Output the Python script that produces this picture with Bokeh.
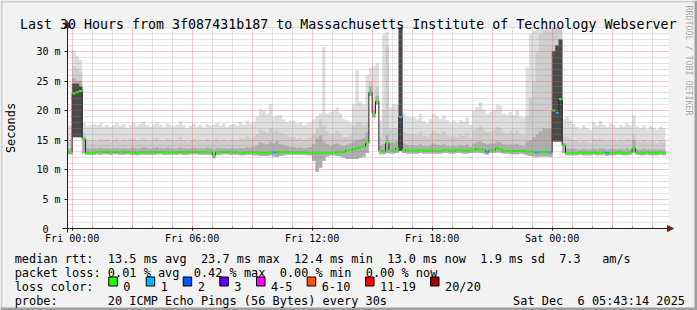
import math
from bokeh.plotting import figure
from bokeh.models import (Range1d, FixedTicker, Label, BoxAnnotation, Arrow,
                          NormalHead, LinearAxis, Grid)
from bokeh.embed import file_html
from bokeh.resources import INLINE

# ---------------- data (10-minute bins, hours relative to Fri 00:00) ----------------
BIN_HOURS = 1 / 6
FIRST_BIN_START = -1 / 3

median_ms = [
    12.9, 12.9,
    22.9, 23.1, 23.3, 15.2, 12.8, 12.8,
    12.8, 12.9, 12.9, 13.0, 13.0, 12.9,
    13.0, 13.0, 12.9, 12.9, 13.0, 12.9,
    12.9, 12.8, 12.9, 12.9, 12.9, 12.9,
    12.9, 13.0, 13.0, 12.9, 12.9, 12.9,
    12.9, 12.9, 13.0, 12.9, 12.9, 13.0,
    13.0, 13.0, 12.9, 12.9, 12.9, 12.9,
    12.4, 12.9, 12.9, 13.0, 13.0, 12.9,
    12.9, 12.9, 12.8, 12.8, 12.9, 12.9,
    12.9, 12.9, 12.8, 12.8, 12.8, 12.9,
    12.9, 13.0, 12.9, 12.9, 12.9, 12.9,
    12.9, 12.9, 12.9, 12.9, 12.8, 12.8,
    12.8, 12.7, 12.8, 12.8, 12.8, 12.8,
    12.8, 12.9, 12.9, 13.0, 13.3, 13.3,
    13.5, 13.6, 13.8, 13.9, 14.5, 23.1,
    19.5, 21.6, 13.2, 13.1, 14.5, 13.3,
    13.3, 13.6, 18.9, 13.4, 13.2, 13.2,
    13.2, 13.2, 13.3, 13.2, 13.2, 13.2,
    13.2, 13.2, 13.2, 13.3, 13.3, 13.2,
    13.2, 13.3, 13.3, 13.2, 13.2, 13.3,
    13.3, 13.5, 13.4, 13.3, 13.0, 13.3,
    13.3, 13.6, 13.4, 13.2, 13.2, 13.1,
    13.1, 13.1, 13.2, 13.1, 13.0, 13.1,
    13.0, 12.9, 13.0, 13.0, 12.9, 12.9,
    20.0, 19.6, 21.9, 14.1, 12.8, 12.8,
    12.8, 12.8, 12.9, 12.8, 12.8, 12.8,
    12.9, 12.8, 12.8, 12.9, 12.8, 12.8,
    12.8, 12.9, 12.9, 12.8, 12.8, 12.9,
    13.6, 12.9, 12.8, 12.8, 12.9, 12.8,
    12.8, 12.8, 12.9, 12.8,
]

max_ms = [
    17.5, 17.4,
    30.2, 29.2, 28.6, 18.0, 17.3, 17.6,
    17.8, 17.5, 17.9, 17.3, 17.6, 17.2,
    17.5, 17.9, 17.4, 17.7, 17.1, 17.6,
    17.9, 17.4, 17.8, 18.1, 17.5, 17.3,
    17.7, 18.0, 17.6, 17.2, 17.8, 17.5,
    17.3, 17.6, 18.2, 17.5, 17.0, 17.4,
    17.8, 17.3, 17.6, 17.1, 17.7, 17.4,
    17.6, 17.9, 17.4, 17.8, 17.2, 17.6,
    17.7, 17.4, 18.0, 17.6, 18.3, 17.8,
    18.0, 19.0, 20.3, 20.0, 19.5, 21.1,
    19.0, 19.2, 19.2, 18.5, 18.0, 18.3,
    18.3, 17.8, 18.0, 17.5, 17.8, 18.0,
    18.5, 19.0, 19.5, 30.7, 19.5, 19.8,
    20.0, 20.5, 19.5, 18.5, 18.3, 18.0,
    21.0, 26.8, 21.5, 21.0, 26.0, 27.3,
    27.5, 28.0, 18.3, 33.0, 33.3, 20.5,
    21.0, 21.0, 34.0, 19.5, 19.0, 18.8,
    18.9, 18.5, 19.5, 18.2, 17.8, 18.6,
    19.5, 19.0, 18.6, 19.2, 18.4, 18.0,
    18.3, 17.9, 18.4, 18.1, 18.8, 17.6,
    20.0, 20.6, 21.4, 20.2, 19.4, 19.8,
    20.0, 21.0, 20.8, 19.5, 19.3, 19.8,
    19.2, 20.0, 19.0, 18.8, 27.3, 33.0,
    33.5, 34.0, 34.0, 34.0, 34.0, 34.0,
    34.0, 34.0, 34.0, 18.5, 18.9, 18.3,
    17.7, 17.2, 16.9, 17.5, 17.0, 16.7,
    18.0, 17.4, 18.2, 17.6, 17.2, 17.8,
    17.5, 17.1, 17.6, 17.3, 17.9, 17.4,
    19.2, 17.3, 17.0, 17.6, 16.9, 17.4,
    17.1, 16.8, 17.3, 17.0,
]

upper_ms = [
    15.0, 15.2,
    27.5, 27.0, 26.5, 16.2, 15.0, 14.8,
    15.0, 14.8, 15.2, 14.9, 15.1, 14.7,
    15.0, 15.3, 14.8, 15.1, 14.9, 15.2,
    15.3, 14.9, 15.1, 15.4, 15.0, 14.8,
    15.2, 15.4, 15.0, 14.8, 15.3, 15.0,
    14.9, 15.1, 15.5, 15.0, 14.6, 14.9,
    15.2, 14.8, 15.1, 14.7, 15.2, 14.9,
    15.0, 15.3, 14.9, 15.2, 14.8, 15.0,
    15.1, 14.9, 15.4, 15.2, 15.6, 15.3,
    15.5, 16.0, 16.8, 16.5, 16.2, 17.0,
    16.5, 16.8, 16.2, 16.0, 15.8, 15.5,
    15.5, 15.2, 15.4, 15.0, 15.3, 15.5,
    16.0, 17.0, 18.5, 17.5, 16.5, 16.0,
    16.2, 16.5, 16.0, 15.5, 15.5, 15.8,
    17.5, 18.0, 18.0, 17.5, 18.0, 25.0,
    21.0, 24.0, 15.5, 20.0, 31.0, 17.0,
    17.0, 17.0, 34.0, 16.5, 16.2, 16.0,
    16.0, 15.8, 16.4, 15.7, 15.5, 16.0,
    16.5, 16.2, 16.0, 16.4, 15.9, 15.6,
    15.8, 15.5, 15.9, 15.7, 16.1, 15.4,
    16.6, 17.0, 17.4, 16.8, 16.3, 16.5,
    16.6, 17.2, 17.0, 16.4, 16.2, 16.5,
    16.2, 16.6, 16.0, 15.9, 19.0, 22.0,
    25.0, 30.0, 33.0, 33.5, 33.5, 33.5,
    34.0, 34.0, 34.0, 15.5, 15.6, 15.2,
    15.0, 14.8, 14.6, 15.0, 14.7, 14.5,
    15.2, 14.9, 15.3, 15.0, 14.8, 15.1,
    15.0, 14.7, 15.0, 14.8, 15.2, 14.9,
    16.0, 14.9, 14.7, 15.0, 14.6, 14.9,
    14.8, 14.5, 14.9, 14.7,
]

inner_ms = [
    13.6, 13.6,
    25.5, 25.0, 25.0, 15.4, 13.6, 13.5,
    13.6, 13.5, 13.7, 13.5, 13.6, 13.5,
    13.6, 13.7, 13.5, 13.6, 13.5, 13.7,
    13.7, 13.5, 13.6, 13.8, 13.6, 13.5,
    13.7, 13.8, 13.6, 13.5, 13.7, 13.6,
    13.5, 13.6, 13.8, 13.6, 13.5, 13.6,
    13.7, 13.6, 13.6, 13.5, 13.7, 13.6,
    13.4, 13.7, 13.6, 13.6, 13.5, 13.6,
    13.6, 13.5, 13.7, 13.6, 13.8, 13.7,
    13.8, 14.1, 14.6, 14.4, 14.3, 14.7,
    14.4, 14.8, 14.3, 14.1, 14.0, 13.8,
    13.8, 13.7, 13.8, 13.6, 13.7, 13.8,
    14.3, 15.3, 15.8, 14.8, 14.3, 14.0,
    14.3, 14.4, 14.1, 14.0, 14.2, 14.4,
    14.8, 15.0, 15.1, 15.3, 16.3, 24.0,
    20.0, 22.5, 14.0, 14.3, 15.8, 14.6,
    14.6, 14.8, 34.0, 14.4, 14.2, 14.1,
    14.1, 14.0, 14.3, 14.0, 13.9, 14.1,
    14.4, 14.2, 14.1, 14.3, 14.0, 13.9,
    14.0, 13.9, 14.1, 14.0, 14.2, 13.8,
    14.4, 14.7, 14.8, 14.5, 14.3, 14.4,
    14.4, 14.8, 14.6, 14.3, 14.2, 14.3,
    14.2, 14.4, 14.1, 14.0, 14.8, 15.0,
    15.5, 16.0, 16.5, 17.0, 17.0, 17.0,
    27.0, 27.0, 27.0, 14.5, 13.6, 13.5,
    13.5, 13.4, 13.4, 13.5, 13.4, 13.4,
    13.6, 13.4, 13.6, 13.5, 13.4, 13.5,
    13.5, 13.4, 13.5, 13.4, 13.6, 13.4,
    15.0, 13.4, 13.4, 13.5, 13.4, 13.4,
    13.4, 13.4, 13.4, 13.4,
]

min_ms = [
    12.6, 12.6,
    15.5, 15.5, 15.5, 12.7, 12.5, 12.5,
    12.5, 12.6, 12.5, 12.6, 12.6, 12.5,
    12.6, 12.6, 12.5, 12.5, 12.6, 12.5,
    12.5, 12.4, 12.5, 12.5, 12.5, 12.5,
    12.5, 12.6, 12.6, 12.5, 12.5, 12.5,
    12.5, 12.5, 12.6, 12.5, 12.5, 12.6,
    12.6, 12.6, 12.5, 12.5, 12.5, 12.5,
    11.9, 12.5, 12.5, 12.6, 12.6, 12.5,
    12.5, 12.5, 12.4, 12.4, 12.5, 12.5,
    12.4, 12.4, 12.3, 12.3, 12.3, 12.4,
    12.2, 12.1, 12.3, 12.4, 12.5, 12.5,
    12.5, 12.5, 12.5, 12.5, 12.4, 12.4,
    11.5, 9.6, 10.3, 11.5, 12.2, 12.4,
    12.4, 12.3, 12.2, 12.0, 11.8, 11.8,
    11.8, 11.8, 12.0, 12.2, 12.8, 22.5,
    18.8, 21.0, 12.6, 12.6, 12.8, 12.7,
    12.7, 12.8, 13.2, 12.8, 12.7, 12.7,
    12.7, 12.7, 12.8, 12.7, 12.7, 12.7,
    12.7, 12.7, 12.7, 12.8, 12.8, 12.7,
    12.7, 12.8, 12.8, 12.7, 12.7, 12.8,
    12.8, 12.9, 12.8, 12.7, 12.5, 12.8,
    12.8, 12.9, 12.8, 12.7, 12.7, 12.6,
    12.6, 12.6, 12.7, 12.6, 12.4, 12.3,
    12.2, 12.1, 12.2, 12.2, 12.2, 12.1,
    14.8, 14.8, 14.8, 12.8, 12.4, 12.4,
    12.4, 12.4, 12.5, 12.4, 12.4, 12.4,
    12.5, 12.4, 12.4, 12.5, 12.3, 12.4,
    12.4, 12.5, 12.5, 12.4, 12.4, 12.5,
    12.9, 12.5, 12.4, 12.4, 12.5, 12.4,
    12.4, 12.4, 12.5, 12.4,
]

# bins whose pings were packed densely (darkest smoke)
core_bins = [2, 3, 4, 100, 146, 147, 148]
core_top_ms = [24.5, 24.5, 24.0, 34.0, 30.0, 31.0, 32.0]

# bins with packet loss (number of lost pings out of 20)
loss_bins = [62, 100, 126, 141, 145, 147, 162]
loss_counts = [1, 1, 1, 1, 1, 1, 1]

loss_labels = ["0", "1", "2", "3", "4-5", "6-10", "11-19", "20/20"]
loss_colors = ["#26FF00", "#00B8FF", "#0059FF", "#5E00FF", "#FF00FF",
               "#FF5500", "#FF0000", "#A10000"]
loss_upper = [0, 1, 2, 3, 5, 10, 19, 20]

x_tick_hours = [0, 6, 12, 18, 24]
x_tick_labels = ["Fri 00:00", "Fri 06:00", "Fri 12:00", "Fri 18:00", "Sat 00:00"]
y_ticks = [0, 5, 10, 15, 20, 25, 30]
y_tick_labels = ["0", "5 m", "10 m", "15 m", "20 m", "25 m", "30 m"]

title_text = "Last 30 Hours from 3f087431b187 to Massachusetts Institute of Technology Webserver"
stats_rtt = [("median rtt:", 0), ("13.5 ms avg", 13), ("23.7 ms max", 26),
             ("12.4 ms min", 39), ("13.0 ms now", 52), ("1.9 ms sd", 65),
             ("7.3", 76), ("am/s", 82)]
stats_loss = [("packet loss:", 0), ("0.01 % avg", 13), ("0.42 % max", 25),
              ("0.00 % min", 37), ("0.00 % now", 49)]
probe_text = [("probe:", 0), ("20 ICMP Echo Pings (56 Bytes) every 30s", 13)]
date_text = [("Sat Dec", 0), ("6 05:43:14 2025", 9)]

# ---------------- layout constants ----------------
W, H = 697, 310
X0_PX, PX_PER_H = 71.7, 20.0          # canvas x of Fri 00:00, px per hour
Y0_PX, PX_PER_MS = 228.0, 5.9         # canvas y of 0 ms, px per ms
X_LEFT, X_RIGHT = -0.235, 29.815      # plot area in hours
Y_TOP = 34.07                          # plot area top in ms
MONO = "DejaVu Sans Mono"
CW = 7.164                             # char width of 11.9px mono
LX0 = 14.2

n = len(median_ms)
starts = [max(FIRST_BIN_START + i * BIN_HOURS, X_LEFT) for i in range(n)]
ends = [FIRST_BIN_START + (i + 1) * BIN_HOURS for i in range(n)]
edges = starts + [ends[-1]]


def ext(a):
    return list(a) + [a[-1]]


def loss_index(c):
    for i, up in enumerate(loss_upper):
        if c <= up:
            return i
    return len(loss_upper) - 1


seg_colors = [loss_colors[0]] * n
for b, c in zip(loss_bins, loss_counts):
    seg_colors[b] = loss_colors[loss_index(c)]

# the frame covers the whole canvas; the scales map hours / ms onto it
p = figure(width=W, height=H, output_backend="svg", toolbar_location=None,
           x_range=Range1d(-X0_PX / PX_PER_H, (W - X0_PX) / PX_PER_H),
           y_range=Range1d((Y0_PX - H) / PX_PER_MS, Y0_PX / PX_PER_MS),
           x_axis_location=None, y_axis_location=None, min_border=0)
p.title.visible = False
p.outline_line_color = None
p.background_fill_color = "#F2F2F2"
p.border_fill_color = "#F2F2F2"
p.xgrid.visible = False
p.ygrid.visible = False

# white canvas of the plot area
p.add_layout(BoxAnnotation(left=X_LEFT, right=X_RIGHT, bottom=0, top=Y_TOP,
                           fill_color="#FFFFFF", fill_alpha=1, line_color=None,
                           level="underlay"))

# smoke
p.varea_step(x=edges, y1=ext(min_ms), y2=ext(max_ms), step_mode="after",
             fill_color="#DEDEDE")
p.varea_step(x=edges, y1=ext(min_ms), y2=ext(upper_ms), step_mode="after",
             fill_color="#CDCDCD")
p.varea_step(x=edges, y1=ext(min_ms), y2=ext(inner_ms), step_mode="after",
             fill_color="#AEAEAE")
p.quad(left=[starts[b] for b in core_bins], right=[ends[b] for b in core_bins],
       bottom=[min_ms[b] for b in core_bins], top=core_top_ms,
       fill_color="#4A4A4A", line_color="#4A4A4A", line_width=0.6)

# median
p.step(x=edges, y=ext(median_ms), mode="after", line_color="#202020", line_width=1)
p.segment(x0=starts, x1=ends, y0=median_ms, y1=median_ms, line_color=seg_colors,
          line_width=2)

# grids (limited to the plot area)
xg = Grid(dimension=0, ticker=FixedTicker(ticks=list(range(0, 30, 3)),
          minor_ticks=[h for h in range(0, 30) if h % 3]),
          bounds=(X_LEFT, X_RIGHT), cross_bounds=(0, Y_TOP))
yg = Grid(dimension=1, ticker=FixedTicker(ticks=list(range(5, 35, 5)),
          minor_ticks=[m for m in range(1, 35) if m % 5]),
          bounds=(0, Y_TOP), cross_bounds=(X_LEFT, X_RIGHT))
for g in (xg, yg):
    g.level = "guide"
    g.grid_line_color = "#DE4F4F"
    g.grid_line_alpha = 0.6
    g.grid_line_dash = "1 1"
    g.minor_grid_line_color = "#8F8F8F"
    g.minor_grid_line_alpha = 0.5
    g.minor_grid_line_dash = "1 1"
    p.add_layout(g)

# axes, fixed at the plot-area edges
xa = LinearAxis(fixed_location=0, bounds=(X_LEFT, X_RIGHT),
                ticker=FixedTicker(ticks=x_tick_hours, minor_ticks=list(range(0, 30))),
                major_label_overrides=dict(zip(x_tick_hours, x_tick_labels)))
# the unit-less "0" label is padded by rrdtool, so it is drawn separately below
ya = LinearAxis(fixed_location=X_LEFT, bounds=(0, Y_TOP),
                ticker=FixedTicker(ticks=y_ticks, minor_ticks=[]),
                major_label_overrides={t: (lab if t != 0 else "")
                                       for t, lab in zip(y_ticks, y_tick_labels)})
for a in (xa, ya):
    a.axis_line_color = None
    a.major_label_text_font = MONO
    a.major_label_text_font_size = "10px"
    a.major_label_text_color = "#000000"
    a.major_tick_line_color = "#1F1F1F"
    a.minor_tick_line_color = "#8F8F8F"
xa.major_tick_in = 2
xa.major_tick_out = 2
xa.minor_tick_in = 2
xa.minor_tick_out = 0
xa.major_label_standoff = 2
ya.major_tick_in = 0
ya.major_tick_out = 3
ya.major_label_standoff = 4
p.add_layout(xa, "below")
p.add_layout(ya, "left")

# axis lines with arrows
AX_OVER = 5 / PX_PER_H
AY_UNDER = 4 / PX_PER_MS
p.add_layout(Arrow(end=NormalHead(size=6, fill_color="#801F1F", line_color="#801F1F"),
                   x_start=X_LEFT - AX_OVER, y_start=0, x_end=X_RIGHT + AX_OVER,
                   y_end=0, line_color="#1F1F1F", line_width=1))
p.add_layout(Arrow(end=NormalHead(size=6, fill_color="#801F1F", line_color="#801F1F"),
                   x_start=X_LEFT, y_start=-AY_UNDER, x_end=X_LEFT,
                   y_end=Y_TOP + 1.0, line_color="#1F1F1F", line_width=1))


def sx(px):
    return px


def sy(py):
    return H - py


def text(px, py, s, size="11.9px", color="#000000", angle=0.0, align="left",
         baseline="alphabetic"):
    p.add_layout(Label(x=sx(px), y=sy(py), x_units="screen", y_units="screen",
                       text=s, text_font=MONO, text_font_size=size,
                       text_color=color, angle=angle, text_align=align,
                       text_baseline=baseline))


def box(l, r, t, b, color, line=None):
    p.add_layout(BoxAnnotation(left=sx(l), right=sx(r), top=sy(t), bottom=sy(b),
                               left_units="screen", right_units="screen",
                               top_units="screen", bottom_units="screen",
                               fill_color=color, fill_alpha=1,
                               line_color=line, line_width=1, line_alpha=1))


# zero tick label, placed two character cells left of the unit labels
p.add_layout(Label(x=X_LEFT, y=y_ticks[0], x_offset=-19, text=y_tick_labels[0],
                   text_font=MONO, text_font_size="10px", text_color="#000000",
                   text_align="right", text_baseline="middle"))

# outer bevel
box(0, W, 0, 2, "#CFCFCF")
box(0, 2, 0, H, "#CFCFCF")
box(0, W, H - 3, H, "#9E9E9E")
box(W - 3, W, 0, H, "#9E9E9E")

# title and side texts
text(19.5, 24, title_text, size="13.3px")
text(10.5, 127.5, "Seconds", angle=math.pi / 2, align="center", baseline="middle")
text(688, 5, "RRDTOOL / TOBI OETIKER", size="8.3px", color="#A8A8A8",
     angle=-math.pi / 2, align="left", baseline="middle")

# legend lines
for s, col in stats_rtt:
    text(LX0 + col * CW, 258, s)
for s, col in stats_loss:
    text(LX0 + col * CW, 272, s)
text(LX0, 286, "loss color:")
box_x = [108.3, 145.7, 182.7, 219.3, 256.0, 306.7, 365.0, 430.0]
for bx, lab, colr in zip(box_x, loss_labels, loss_colors):
    box(bx, bx + 8.5, 276.5, 285.5, colr, line="#000000")
    text(bx + 14.5, 286, lab)
for s, col in probe_text:
    text(LX0 + col * CW, 300, s)
for s, col in date_text:
    text(512.6 + col * CW, 300, s)

open("out.html", "w").write(file_html(p, INLINE))
